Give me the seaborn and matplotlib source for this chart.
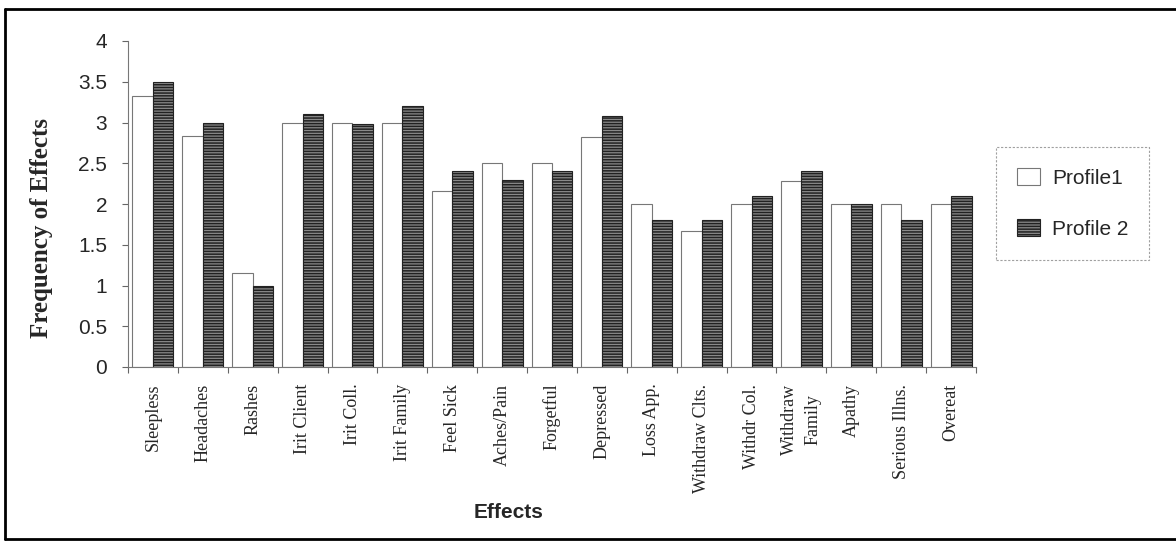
import matplotlib
matplotlib.use("Agg")
import matplotlib.pyplot as plt
from matplotlib.lines import Line2D
from matplotlib.patches import Patch
import numpy as np
import pandas as pd
import seaborn as sns

effects = ["Sleepless", "Headaches", "Rashes", "Irit Client", "Irit Coll.",
           "Irit Family", "Feel Sick", "Aches/Pain", "Forgetful", "Depressed",
           "Loss App.", "Withdraw Clts.", "Withdr Col.", "Withdraw\nFamily",
           "Apathy", "Serious Illns.", "Overeat"]
profile1 = [3.33, 2.83, 1.15, 3.0, 3.0, 3.0, 2.16, 2.5, 2.5, 2.82,
            2.0, 1.67, 2.0, 2.28, 2.0, 2.0, 2.0]
profile2 = [3.5, 3.0, 1.0, 3.1, 2.98, 3.2, 2.4, 2.3, 2.4, 3.08,
            1.8, 1.8, 2.1, 2.4, 2.0, 1.8, 2.1]
series_names = ["Profile1", "Profile 2"]
yticks = [0, 0.5, 1, 1.5, 2, 2.5, 3, 3.5, 4]

df = pd.DataFrame({
    "Effect": effects * 2,
    "Frequency": profile1 + profile2,
    "Profile": [series_names[0]] * len(effects) + [series_names[1]] * len(effects),
})

sns.set_style("white")
plt.rcParams["hatch.linewidth"] = 1.1
plt.rcParams["hatch.color"] = "#111111"

W, H = 1176, 546
fig = plt.figure(figsize=(W / 100, H / 100), dpi=100)
ax = fig.add_axes([128 / W, 1 - 367 / H, (976 - 128) / W, (367 - 41) / H])

sns.barplot(data=df, x="Effect", y="Frequency", hue="Profile",
            hue_order=series_names, order=effects, width=0.82, gap=0,
            palette=["white", "#8a8a8a"], edgecolor="#555555", linewidth=0.8,
            ax=ax, legend=False, saturation=1)

n = len(effects)
for i, bar in enumerate(ax.patches[:2 * n]):
    if i >= n:
        bar.set_hatch("------")
        bar.set_edgecolor("#222222")
    else:
        bar.set_edgecolor("#777777")

ax.set_xlim(-0.5, n - 0.5)
ax.set_ylim(0, 4)
ax.set_yticks(yticks)
ax.set_yticklabels([f"{v:g}" for v in yticks], fontsize=15,
                   family="Liberation Sans")
ax.set_xticks(range(n))
ax.set_xticklabels(effects, rotation=90, fontsize=13, family="Liberation Serif",
                   linespacing=1.5, va="top")
ax.set_xticks(np.arange(-0.5, n, 1), minor=True)
ax.tick_params(axis="x", which="major", length=0, pad=12)
ax.tick_params(axis="x", which="minor", length=4, direction="out", color="#666666",
               width=0.8, bottom=True)
ax.tick_params(axis="y", length=4, direction="out", color="#666666", width=0.8,
               left=True, pad=11)

for side in ["top", "right"]:
    ax.spines[side].set_visible(False)
for side in ["left", "bottom"]:
    ax.spines[side].set_color("#777777")
    ax.spines[side].set_linewidth(0.8)

ax.set_ylabel("")
ax.set_xlabel("")
fig.text(42 / W, 1 - 228 / H, "Frequency of Effects", rotation=90, fontsize=18,
         fontweight="bold", family="Liberation Serif", ha="center", va="center")
fig.text(509 / W, 1 - 513 / H, "Effects", fontsize=15, fontweight="bold",
         family="Liberation Sans", ha="center", va="center")

handles = [Patch(facecolor="white", edgecolor="#777777", linewidth=0.8),
           Patch(facecolor="#8a8a8a", edgecolor="#222222", hatch="------", linewidth=0.8)]
leg = fig.legend(handles, series_names, loc="upper left",
                 bbox_to_anchor=(996 / W, 1 - 147 / H), frameon=True, fancybox=False,
                 prop={"family": "Liberation Sans", "size": 15},
                 handlelength=1.1, handleheight=0.9, labelspacing=1.5,
                 borderpad=1.0, handletextpad=0.6, borderaxespad=0)
leg.get_frame().set_edgecolor("#888888")
leg.get_frame().set_linestyle((0, (2, 1.5)))
leg.get_frame().set_linewidth(0.8)

# outer frame: top, left and bottom rules
frame_kw = dict(color="black", linewidth=2, transform=fig.transFigure)
fig.add_artist(Line2D([5 / W, 1], [1 - 9 / H, 1 - 9 / H], **frame_kw))
fig.add_artist(Line2D([5 / W, 5 / W], [1 - 9 / H, 1 - 539 / H], **frame_kw))
fig.add_artist(Line2D([5 / W, 1], [1 - 539 / H, 1 - 539 / H], **frame_kw))

fig.savefig("out.png", dpi=100)
